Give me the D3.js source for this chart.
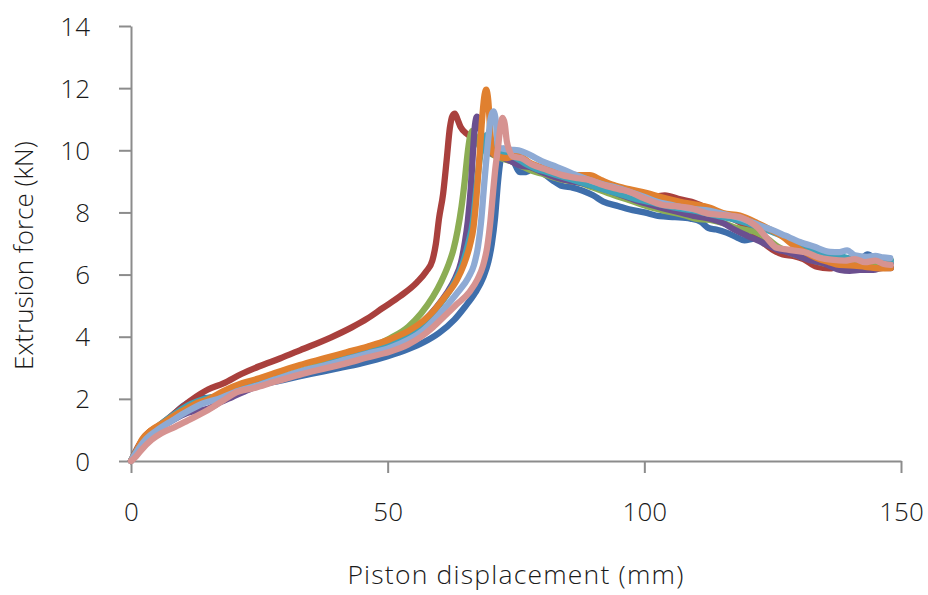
<!DOCTYPE html>
<html>
<head>
<meta charset="utf-8">
<script src="https://cdn.jsdelivr.net/npm/d3@7"></script>
<style>
  html, body { margin: 0; padding: 0; background: #fff; }
  svg text { font-family: "Open Sans", "Noto Sans", sans-serif; font-weight: 300; fill: #1a1a1a; }
</style>
</head>
<body>
<svg id="chart" width="928" height="595"></svg>
<script>
// Extrusion force vs piston displacement, eight test runs: [displacement mm, force kN]
const run1 = [[0,0],[1.5,0.35],[3,0.75],[5,1.05],[8,1.45],[10,1.75],[12,1.95],[14,2.02],[16,2.05],[18,2.15],[21,2.3],[25,2.45],[30,2.62],[35,2.8],[40,2.97],[45,3.15],[50,3.37],[54,3.6],[57,3.82],[60,4.12],[63,4.55],[65,4.95],[67,5.4],[68.6,5.9],[69.6,6.4],[70.3,7.0],[70.9,7.8],[71.5,9.0],[72,9.7],[72.6,10.05],[73.4,9.95],[74.5,9.65],[75.8,9.3],[77,9.3],[78.5,9.45],[80,9.3],[82,9.05],[84,8.85],[86,8.8],[88,8.7],[90,8.55],[92,8.35],[95,8.2],[97,8.1],[100,8.0],[103,7.88],[106,7.85],[109,7.8],[111,7.7],[112.5,7.5],[114,7.45],[116,7.35],[118,7.2],[119.5,7.1],[121,7.15],[122.5,7.2],[124,7.05],[126,6.85],[128,6.7],[130,6.6],[132,6.5],[134,6.45],[136,6.4],[138,6.35],[140,6.35],[142,6.45],[143.5,6.65],[145,6.5],[146.5,6.45],[148,6.35]];
const run2 = [[0,0],[1.5,0.5],[3,0.85],[5.3,1.12],[8.6,1.55],[11.9,1.98],[15,2.3],[18,2.5],[21.5,2.8],[25,3.05],[29,3.3],[33,3.57],[39,3.98],[43,4.3],[46,4.58],[49,4.92],[52.4,5.3],[55.7,5.75],[57.5,6.1],[58.7,6.45],[59.4,7.0],[60,7.8],[60.8,8.6],[61.5,9.7],[62.1,10.7],[62.6,11.1],[63.1,11.18],[63.6,11.0],[64.2,10.75],[65.5,10.52],[67,10.38],[68.5,10.15],[70,10.0],[73,9.85],[76,9.6],[80,9.35],[85,9.1],[90,8.9],[95,8.7],[99,8.55],[101.7,8.5],[104,8.55],[107,8.42],[110,8.3],[112.8,8.1],[115,7.95],[118.6,7.68],[121,7.4],[123,7.05],[125,6.8],[127,6.65],[129,6.6],[131,6.5],[133.6,6.25],[136,6.2],[138,6.25],[140,6.15],[142,6.25],[144,6.2],[146,6.25],[148,6.22]];
const run3 = [[0,0],[1.5,0.4],[3,0.75],[5,1.02],[8,1.4],[11,1.7],[14,1.95],[17,2.1],[20,2.28],[25,2.5],[30,2.75],[35,3.0],[40,3.27],[45,3.55],[50.5,3.95],[54,4.32],[56.5,4.75],[58.8,5.28],[60.5,5.8],[61.8,6.3],[62.8,6.8],[63.6,7.4],[64.4,8.2],[65.0,9.0],[65.5,9.8],[66.0,10.4],[66.5,10.62],[67.2,10.4],[68,10.1],[70,9.9],[72,9.75],[74,9.65],[76,9.5],[78,9.35],[80,9.25],[84,9.05],[87.5,8.95],[90,8.8],[94,8.56],[97,8.4],[100.5,8.2],[104,8.05],[108,7.9],[110,7.8],[112.8,7.76],[115.3,7.66],[118,7.5],[122,7.34],[124,7.15],[126,6.9],[128.4,6.7],[131,6.55],[134.8,6.37],[137,6.3],[140,6.3],[143,6.3],[146,6.4],[148,6.47]];
const run4 = [[0,0],[1.5,0.38],[3,0.7],[5,0.98],[8,1.3],[11,1.55],[15,1.68],[17.5,1.9],[19.7,2.06],[23,2.3],[27,2.52],[31,2.72],[35,2.92],[40,3.15],[45,3.42],[50,3.75],[54,4.1],[57,4.5],[59.5,4.95],[61.5,5.4],[63.2,5.9],[64.3,6.4],[65,7.0],[65.6,7.7],[66.2,8.8],[66.6,9.9],[67.0,10.8],[67.4,11.08],[67.9,10.9],[68.4,10.35],[69.2,10.05],[70.5,9.88],[72,9.8],[74,9.65],[76,9.5],[77.7,9.46],[80,9.3],[83,9.12],[86,9.0],[88.5,8.92],[90.8,8.82],[94,8.65],[97.2,8.46],[100,8.3],[103.6,8.14],[107,8.0],[110,7.88],[112.8,7.8],[115.3,7.66],[117.5,7.45],[120,7.25],[122,7.11],[124,6.95],[126,6.8],[127.8,6.73],[130,6.6],[132.5,6.45],[134.8,6.37],[136.5,6.25],[138.1,6.15],[140,6.12],[142,6.15],[144.6,6.15],[146.5,6.22],[148,6.21]];
const run5 = [[0,0],[1.5,0.45],[3,0.8],[5,1.08],[8,1.45],[11,1.78],[14,1.98],[17,2.1],[20,2.25],[25,2.5],[30,2.72],[35,2.95],[40,3.2],[45,3.45],[50,3.72],[54,4.05],[57,4.45],[60,5.0],[62.5,5.6],[64.5,6.3],[65.7,7.0],[66.6,7.7],[67.3,8.8],[68,9.8],[68.8,10.35],[69.5,10.5],[70.2,10.3],[71,10.0],[72.5,9.9],[74.5,9.8],[77,9.55],[79,9.4],[81,9.3],[83,9.2],[86,9.05],[90,8.85],[94,8.65],[98,8.45],[102,8.3],[106,8.15],[110,8.05],[114,7.9],[118,7.75],[122,7.55],[125,7.37],[127.5,7.2],[129.7,7.0],[132,6.85],[135,6.7],[138,6.6],[141,6.5],[144,6.5],[146,6.45],[148,6.45]];
const run6 = [[0,0],[1,0.3],[2.1,0.68],[4,1.0],[6,1.2],[8.6,1.48],[11,1.7],[13,1.88],[15,1.98],[18,2.25],[21.6,2.5],[25,2.66],[28,2.83],[32.9,3.09],[37.8,3.31],[42,3.5],[46,3.68],[50.5,3.92],[54,4.18],[57,4.52],[58.8,4.8],[61,5.25],[63.5,5.83],[64.8,6.3],[66.1,7.0],[66.7,7.5],[67.3,8.5],[67.8,9.6],[68.3,10.8],[68.8,11.7],[69.2,11.95],[69.6,11.6],[70,10.6],[70.5,9.9],[71.5,9.8],[73.2,9.75],[75.2,9.85],[77.7,9.6],[80,9.45],[82,9.35],[84.2,9.3],[87,9.2],[89.4,9.2],[91.5,9.05],[94,8.88],[97,8.75],[100.5,8.62],[103,8.5],[107,8.34],[110,8.25],[112.8,8.15],[115.3,7.98],[118.6,7.9],[122,7.66],[124.5,7.45],[127,7.21],[129,6.95],[131,6.75],[133.6,6.53],[136,6.4],[138,6.31],[140,6.3],[143,6.25],[146,6.2],[148,6.21]];
const run7 = [[0,0],[1.5,0.4],[3,0.72],[5,0.98],[8,1.3],[11,1.6],[14,1.85],[17,2.0],[20,2.2],[25,2.45],[28,2.62],[32.9,2.88],[37.8,3.08],[42,3.27],[46,3.45],[50.5,3.65],[54,3.9],[56.5,4.15],[58.8,4.5],[61,4.9],[63.5,5.4],[65.7,5.9],[66.8,6.3],[67.6,6.9],[68.2,7.7],[68.8,8.9],[69.5,10.2],[70.1,11.05],[70.6,11.25],[71.1,10.9],[71.5,10.1],[72.5,10.05],[73.8,10.02],[75.5,10.0],[77.7,9.85],[80,9.65],[83,9.46],[86,9.25],[89.4,9.04],[92,8.9],[94.5,8.8],[97.2,8.66],[100,8.5],[102.5,8.34],[105,8.25],[108.9,8.12],[112.8,8.05],[116,7.92],[118.6,7.82],[121,7.68],[123,7.55],[125,7.43],[127.5,7.25],[130.3,7.05],[133,6.9],[136.2,6.73],[138,6.72],[139.5,6.78],[141,6.62],[143.4,6.57],[145,6.6],[146.5,6.55],[147.9,6.53]];
const run8 = [[0,0],[1,0.15],[2,0.35],[4,0.68],[6,0.9],[8.6,1.1],[11,1.3],[15,1.64],[18,1.95],[20.3,2.19],[24,2.35],[28,2.55],[32.9,2.78],[37.8,2.98],[42,3.15],[46,3.33],[50.5,3.52],[54,3.75],[56.5,4.0],[58.8,4.3],[61,4.65],[63.5,5.05],[66,5.45],[67.5,5.85],[68.6,6.3],[69.4,6.9],[70,7.7],[70.5,8.6],[70.9,9.3],[71.5,10.1],[72,10.8],[72.4,11.04],[72.8,10.85],[73.2,10.3],[73.8,9.95],[74.4,9.8],[76,9.75],[78,9.55],[81,9.37],[84,9.2],[87,9.1],[89.4,9.04],[92,8.88],[95,8.75],[97.2,8.66],[100,8.45],[103.6,8.24],[106,8.2],[109,8.14],[112.8,7.95],[115,7.92],[118.6,7.85],[120.5,7.7],[122,7.53],[124,7.15],[125.8,6.86],[128,6.8],[131.7,6.7],[134,6.55],[136.8,6.47],[139,6.45],[141,6.5],[143,6.4],[145,6.45],[146.5,6.35],[148,6.31]];

const runs = [run1, run2, run3, run4, run5, run6, run7, run8];
const runColors = ["#3e6eab", "#a9403d", "#8cad54", "#6b4f8f", "#3ea2b9", "#e0802f", "#8eaad4", "#d69391"];

const xTicks = [0, 50, 100, 150];
const yTicks = [0, 2, 4, 6, 8, 10, 12, 14];
const xTitle = "Piston displacement (mm)";
const yTitle = "Extrusion force (kN)";

const svg = d3.select("#chart");
const margin = { left: 131, right: 27, top: 26, bottom: 134 };
const W = 928, H = 595;

const x = d3.scaleLinear().domain([0, 150]).range([margin.left, W - margin.right]);
const y = d3.scaleLinear().domain([0, 14]).range([H - margin.bottom, margin.top]);

const axisColor = "#8c8c8c";

// y axis
const yAxis = svg.append("g")
  .attr("transform", `translate(${x(0)},0)`)
  .call(d3.axisLeft(y).tickValues(yTicks).tickSize(12).tickPadding(29).tickSizeOuter(0));
// x axis
const xAxis = svg.append("g")
  .attr("transform", `translate(0,${y(0)})`)
  .call(d3.axisBottom(x).tickValues(xTicks).tickSize(12).tickPadding(30).tickSizeOuter(0));

[xAxis, yAxis].forEach(g => {
  g.select(".domain").attr("stroke", axisColor).attr("stroke-width", 2);
  g.selectAll(".tick line").attr("stroke", axisColor).attr("stroke-width", 2);
  g.selectAll(".tick text")
    .attr("font-size", 26)
    .attr("font-family", "'Open Sans', 'Noto Sans', sans-serif")
    .attr("font-weight", 300)
    .attr("fill", "#1a1a1a");
});
yAxis.selectAll(".tick text").attr("dy", "0.35em");

// series lines
const line = d3.line()
  .x(d => x(d[0]))
  .y(d => y(d[1]))
  .curve(d3.curveMonotoneX);

svg.append("g")
  .selectAll("path")
  .data(runs)
  .join("path")
  .attr("d", line)
  .attr("fill", "none")
  .attr("stroke", (d, i) => runColors[i])
  .attr("stroke-width", 6.3)
  .attr("stroke-linejoin", "round")
  .attr("stroke-linecap", "round");

// axis titles
svg.append("text")
  .attr("x", (x(0) + x(150)) / 2)
  .attr("y", 584)
  .attr("text-anchor", "middle")
  .attr("font-size", 26.5)
  .attr("letter-spacing", 1.2)
  .text(xTitle);

svg.append("text")
  .attr("transform", `translate(33,${(y(0) + y(14)) / 2 + 12}) rotate(-90)`)
  .attr("text-anchor", "middle")
  .attr("font-size", 26)
  .text(yTitle);
</script>
</body>
</html>
